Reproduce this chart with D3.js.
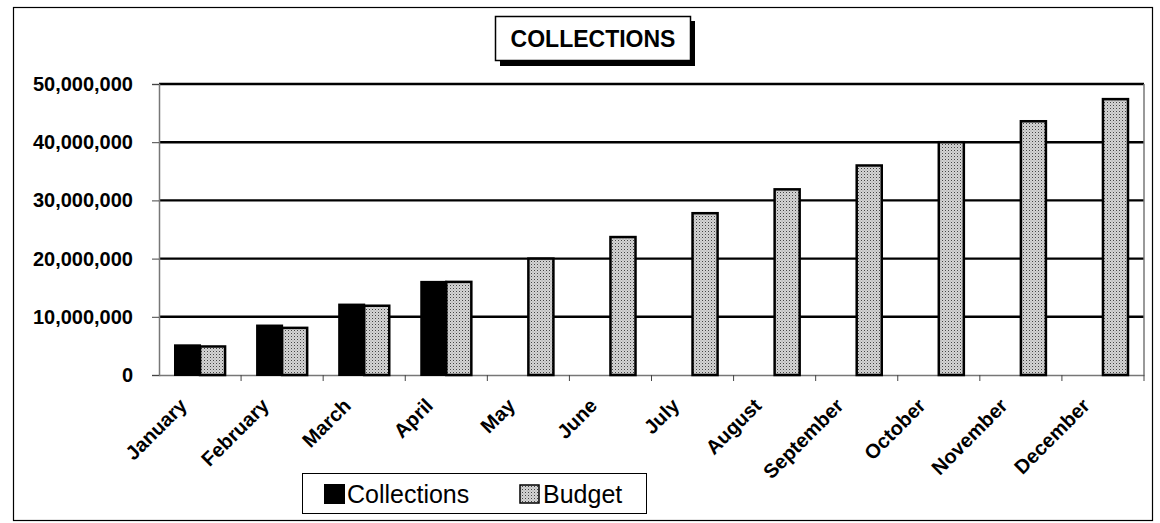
<!doctype html>
<html>
<head>
<meta charset="utf-8">
<title>Collections</title>
<script src="https://d3js.org/d3.v7.min.js"></script>
<style>
body{margin:0;background:#fff;}
text{font-family:"Liberation Sans",Arial,sans-serif;}
</style>
</head>
<body>
<script>
var months = ["January","February","March","April","May","June","July","August","September","October","November","December"];
var collections = [5100000, 8500000, 12100000, 16000000, null, null, null, null, null, null, null, null];
var budget = [4900000, 8100000, 11900000, 16000000, 20000000, 23700000, 27800000, 31900000, 36000000, 40000000, 43600000, 47400000];
var yTicks = [0, 10000000, 20000000, 30000000, 40000000, 50000000];

var width = 1160, height = 523;
var svg = d3.select("body").append("svg").attr("width", width).attr("height", height);

// dotted grey fill for budget bars
var defs = svg.append("defs");
var pat = defs.append("pattern").attr("id","dots").attr("patternUnits","userSpaceOnUse")
  .attr("width",3).attr("height",3);
pat.append("rect").attr("width",3).attr("height",3).attr("fill","#d4d4d4");
pat.append("rect").attr("x",0).attr("y",0).attr("width",1).attr("height",1).attr("fill","#444");
pat.append("rect").attr("x",1.5).attr("y",1.5).attr("width",1).attr("height",1).attr("fill","#999");

// outer frame
svg.append("rect").attr("x",13.5).attr("y",7.5).attr("width",1139).attr("height",513)
  .attr("fill","none").attr("stroke","#000").attr("stroke-width",1.2);

var plotL = 159, plotR = 1144, plotT = 84, plotB = 375;

var x = d3.scaleBand().domain(months).range([plotL, plotR]);
var inner = d3.scaleBand().domain(["c","b"]).range([16, x.bandwidth() - 16]);
var y = d3.scaleLinear().domain([0, 50000000]).range([plotB, plotT]);

// gridlines
svg.append("g").selectAll("line").data(yTicks.slice(1)).enter().append("line")
  .attr("x1", plotL).attr("x2", plotR)
  .attr("y1", d => y(d)).attr("y2", d => y(d))
  .attr("stroke","#000").attr("stroke-width",2.4);

// right border of plot
svg.append("line").attr("x1",plotR).attr("x2",plotR).attr("y1",plotT).attr("y2",plotB)
  .attr("stroke","#777").attr("stroke-width",1.5);

// y axis
var yAxis = d3.axisLeft(y).tickValues(yTicks).tickSize(7).tickPadding(19)
  .tickFormat(d3.format(","));
var gy = svg.append("g").attr("transform","translate(" + plotL + ",0)").call(yAxis);
gy.select(".domain").attr("stroke","#777").attr("stroke-width",1.5);
gy.selectAll(".tick line").attr("stroke","#444");
gy.selectAll("text").attr("font-size",20).attr("font-weight","bold").attr("fill","#000");

// x axis
var xAxis = d3.axisBottom(x).tickSize(0).tickFormat("");
var gx = svg.append("g").attr("transform","translate(0," + plotB + ")").call(xAxis);
gx.select(".domain").attr("stroke","#777").attr("stroke-width",1.5);
gx.selectAll(".sep").data(months).enter().append("line").attr("class","sep")
  .attr("x1", d => x(d) + x.bandwidth()).attr("x2", d => x(d) + x.bandwidth())
  .attr("y1",0).attr("y2",6).attr("stroke","#444");
gx.selectAll(".lbl").data(months).enter().append("text").attr("class","lbl")
  .attr("transform", d => "translate(" + (x(d) + x.bandwidth()/2 - 12) + ",32) rotate(-45)")
  .attr("text-anchor","end").attr("font-size",20).attr("font-weight","bold").attr("fill","#000")
  .text(d => d);

// bars
var cData = months.map((m,i) => ({m:m, v:collections[i]})).filter(d => d.v != null);
svg.append("g").selectAll("rect").data(cData).enter().append("rect")
  .attr("x", d => x(d.m) + inner("c")).attr("width", inner.bandwidth())
  .attr("y", d => y(d.v)).attr("height", d => plotB - y(d.v))
  .attr("fill","#000").attr("stroke","#000").attr("stroke-width",2);
svg.append("g").selectAll("rect").data(months.map((m,i) => ({m:m, v:budget[i]}))).enter().append("rect")
  .attr("x", d => x(d.m) + inner("b")).attr("width", inner.bandwidth())
  .attr("y", d => y(d.v)).attr("height", d => plotB - y(d.v))
  .attr("fill","url(#dots)").attr("stroke","#000").attr("stroke-width",2.5);

// title box with shadow
svg.append("rect").attr("x",500).attr("y",21).attr("width",195).attr("height",45).attr("fill","#000");
svg.append("rect").attr("x",495.5).attr("y",16.5).attr("width",195).attr("height",44)
  .attr("fill","#fff").attr("stroke","#000").attr("stroke-width",1.5);
svg.append("text").attr("x",593).attr("y",47).attr("text-anchor","middle")
  .attr("font-size",23).attr("font-weight","bold").text("COLLECTIONS");

// legend
var lg = svg.append("g");
lg.append("rect").attr("x",302.5).attr("y",473.5).attr("width",344).attr("height",40)
  .attr("fill","#fff").attr("stroke","#000");
lg.append("rect").attr("x",324).attr("y",484).attr("width",21).attr("height",20).attr("fill","#000");
lg.append("text").attr("x",347).attr("y",503).attr("font-size",25).text("Collections");
lg.append("rect").attr("x",520).attr("y",485).attr("width",19).attr("height",18)
  .attr("fill","url(#dots)").attr("stroke","#000").attr("stroke-width",1.5);
lg.append("text").attr("x",543).attr("y",503).attr("font-size",25).text("Budget");
</script>
</body>
</html>
